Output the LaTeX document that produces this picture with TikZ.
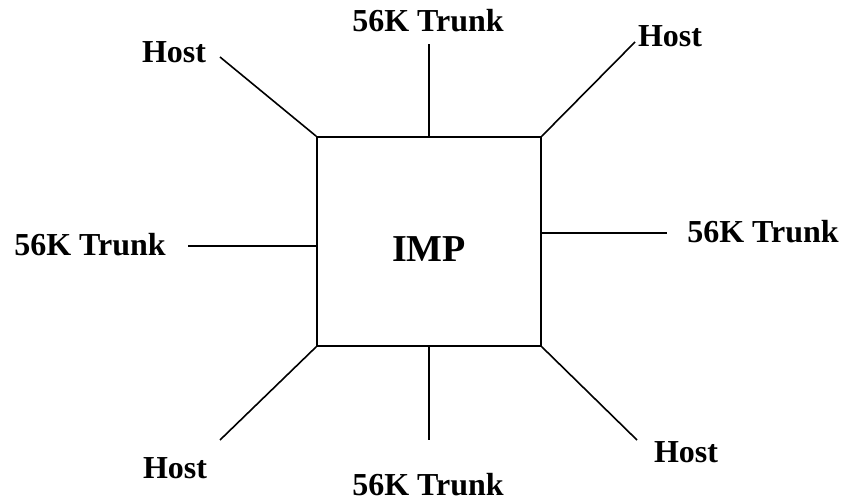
\documentclass[tikz,border=0pt]{standalone}
\usepackage{fontspec}
\setmainfont{Liberation Serif}
\usepackage{tikz}

\begin{document}
\begin{tikzpicture}[x=1pt,y=-1pt,
    lbl/.style={anchor=base,inner sep=0pt,font=\fontsize{32}{38}\selectfont\bfseries},
    link/.style={line width=1.6pt}]
            \useasboundingbox (0,0) rectangle (844,500);
            % the IMP box
            \node[draw,line width=1.6pt,minimum width=224pt,minimum height=209pt,inner sep=0pt,
                  text height=40pt,text depth=0pt,font=\fontsize{38}{46}\selectfont\bfseries]
                  (imp) at (429,241.5) {IMP};
            % labels
            \node[lbl] (trunkN) at (428,32) {56K Trunk};
            \node[lbl] (trunkS) at (428,495) {56K Trunk};
            \node[lbl] (trunkW) at (90,255) {56K Trunk};
            \node[lbl] (trunkE) at (763,243) {56K Trunk};
            \node[lbl] (hostNW) at (174,63) {Host};
            \node[lbl] (hostNE) at (670,47) {Host};
            \node[lbl] (hostSW) at (175,478) {Host};
            \node[lbl] (hostSE) at (686,462) {Host};
            % free ends of the lines
            \coordinate (endN) at (429,44);
            \coordinate (endS) at (429,440);
            \coordinate (endW) at (188,246);
            \coordinate (endE) at (667,233);
            \coordinate (endNW) at (220,57);
            \coordinate (endNE) at (635,42);
            \coordinate (endSW) at (220,440);
            \coordinate (endSE) at (637,440);
            \draw[link] (imp.north) -- (endN);
            \draw[link] (imp.south) -- (endS);
            \draw[link] (endW -| imp.west) -- (endW);
            \draw[link] (endE -| imp.east) -- (endE);
            \draw[link] (imp.north west) -- (endNW);
            \draw[link] (imp.north east) -- (endNE);
            \draw[link] (imp.south west) -- (endSW);
            \draw[link] (imp.south east) -- (endSE);
        \end{tikzpicture}
\end{document}
